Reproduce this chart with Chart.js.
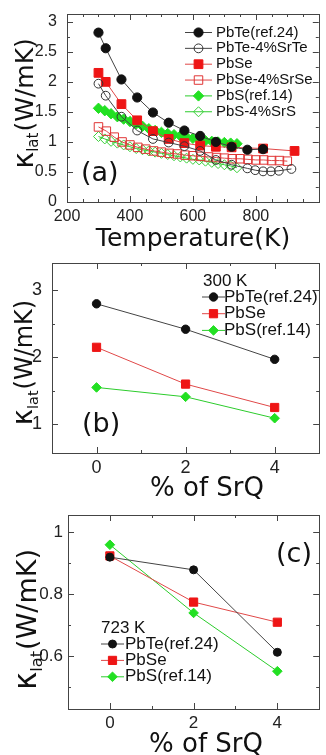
<!DOCTYPE html>
<html>
<head>
<meta charset="utf-8">
<script src="https://cdn.jsdelivr.net/npm/chart.js@4.4.1/dist/chart.umd.min.js"></script>
<style>
  html, body { margin: 0; padding: 0; background: #fff; }
  body { width: 326px; height: 755px; position: relative; overflow: hidden; }
  canvas { position: absolute; left: 0; }
</style>
</head>
<body>
<canvas id="panelA" width="326" height="252" style="top:0px"></canvas>
<canvas id="panelB" width="326" height="250" style="top:250px"></canvas>
<canvas id="panelC" width="326" height="255" style="top:500px"></canvas>
<script>
// ---- panel (a): k_lat vs temperature ----
const tPbTe = [300, 323, 373, 423, 473, 523, 573, 623, 673, 723, 773, 823];
const kPbTe = [2.82, 2.56, 2.04, 1.74, 1.49, 1.32, 1.19, 1.10, 1.00, 0.92, 0.87, 0.88];

const tPbTeSr = [300, 323, 373, 423, 473, 523, 573, 623, 673, 723, 773, 798, 823, 848, 873, 913];
const kPbTeSr = [1.97, 1.77, 1.42, 1.19, 1.05, 0.99, 0.93, 0.85, 0.70, 0.62, 0.56, 0.53, 0.51, 0.51, 0.52, 0.55];

const tPbSe = [300, 323, 373, 423, 473, 523, 573, 623, 673, 723, 823, 923];
const kPbSe = [2.15, 2.00, 1.63, 1.36, 1.18, 1.05, 0.98, 0.94, 0.92, 0.91, 0.89, 0.85];

const tPbSeSr = [300, 325, 350, 375, 400, 425, 450, 475, 500, 525, 550, 575, 600,
                 625, 650, 675, 700, 725, 750, 775, 800, 825, 850, 875, 900];
const kPbSeSr = [1.25, 1.18, 1.08, 1.00, 0.95, 0.91, 0.88, 0.85, 0.83, 0.81, 0.80, 0.78, 0.77,
                 0.76, 0.75, 0.74, 0.73, 0.72, 0.72, 0.71, 0.70, 0.70, 0.69, 0.69, 0.68];

const tPbS = [300, 320, 340, 360, 380, 400, 420, 440, 460, 480, 500, 520,
              540, 560, 580, 600, 620, 640, 660, 680, 700, 720, 740];
const kPbS = [1.56, 1.52, 1.47, 1.42, 1.38, 1.34, 1.30, 1.26, 1.22, 1.19, 1.16, 1.14,
              1.12, 1.10, 1.08, 1.06, 1.04, 1.02, 1.01, 1.00, 0.99, 0.98, 0.97];

const tPbSSr = tPbS;
const kPbSSr = [1.09, 1.05, 1.01, 0.98, 0.95, 0.92, 0.89, 0.87, 0.85, 0.83, 0.81, 0.79,
                0.77, 0.75, 0.73, 0.71, 0.70, 0.68, 0.66, 0.64, 0.62, 0.60, 0.57];

const tempLabels = [200, 400, 600, 800];
const kLabelsA = [0, 0.5, 1, 1.5, 2, 2.5, 3];

// ---- panels (b) and (c): k_lat vs % SrQ ----
const srqPct = [0, 2, 4];
const k300PbTe = [2.80, 2.42, 1.97];
const k300PbSe = [2.15, 1.60, 1.25];
const k300PbS  = [1.55, 1.41, 1.09];
const k723PbTe = [0.92, 0.879, 0.613];
const k723PbSe = [0.924, 0.775, 0.71];
const k723PbS  = [0.96, 0.74, 0.552];

const pctLabels = [0, 2, 4];
const kLabelsB = [1, 2, 3];
const kLabelsC = [0.6, 0.8, 1];

const BLACK = '#111', LINE_BLACK = '#444';
const RED = '#ee1515', LINE_RED = '#e04848';
const GREEN = '#22e022', LINE_GREEN = '#2ccc2c';

const pts = (xs, ys) => xs.map((x, i) => ({ x, y: ys[i] }));
const near = (a, b) => Math.abs(a - b) < 1e-6;

function series(label, xs, ys, style, filled, color, lineColor, r) {
  return {
    label,
    data: pts(xs, ys),
    borderColor: lineColor,
    borderWidth: 1,
    pointStyle: style,
    pointRadius: r,
    pointHoverRadius: r,
    pointBorderWidth: 1,
    pointBorderColor: color,
    pointBackgroundColor: filled ? color : 'rgba(255,255,255,0)',
    backgroundColor: filled ? color : 'rgba(255,255,255,0)',
    tension: 0,
    fill: false
  };
}

function marker(ctx, style, x, y, r, fill, stroke) {
  ctx.beginPath();
  if (style === 'circle') ctx.arc(x, y, r, 0, Math.PI * 2);
  else if (style === 'rect') { const s = r * Math.SQRT1_2; ctx.rect(x - s, y - s, 2 * s, 2 * s); }
  else { ctx.moveTo(x, y - r); ctx.lineTo(x + r, y); ctx.lineTo(x, y + r); ctx.lineTo(x - r, y); ctx.closePath(); }
  ctx.fillStyle = fill; ctx.fill();
  ctx.strokeStyle = stroke; ctx.lineWidth = 1; ctx.stroke();
}

// frame, inward ticks on all sides, tick labels, titles, legend and panel tag
function decor(cfg) {
  return {
    id: 'decor',
    afterDraw(chart) {
      const ctx = chart.ctx, a = chart.chartArea;
      const xs = chart.scales.x, ys = chart.scales.y;
      ctx.save();
      ctx.strokeStyle = '#444';
      ctx.lineWidth = 1;
      ctx.strokeRect(Math.round(a.left) + 0.5, Math.round(a.top) + 0.5,
                     Math.round(a.right - a.left), Math.round(a.bottom - a.top));
      ctx.beginPath();
      xs.ticks.forEach(t => {
        const len = t.major ? 6 : 3;
        const px = Math.round(xs.getPixelForValue(t.value)) + 0.5;
        ctx.moveTo(px, a.bottom); ctx.lineTo(px, a.bottom - len);
        ctx.moveTo(px, a.top); ctx.lineTo(px, a.top + len);
      });
      ys.ticks.forEach(t => {
        const len = t.major ? 6 : 3;
        const py = Math.round(ys.getPixelForValue(t.value)) + 0.5;
        ctx.moveTo(a.left, py); ctx.lineTo(a.left + len, py);
        ctx.moveTo(a.right, py); ctx.lineTo(a.right - len, py);
      });
      ctx.stroke();

      // tick labels
      ctx.fillStyle = '#222';
      ctx.font = cfg.tickFont;
      ctx.textAlign = 'center';
      ctx.textBaseline = 'top';
      xs.ticks.forEach(t => {
        if (t.major) ctx.fillText(String(t.value), xs.getPixelForValue(t.value), a.bottom + cfg.xPad);
      });
      ctx.textAlign = 'right';
      ctx.textBaseline = 'middle';
      ys.ticks.forEach(t => {
        if (t.major) ctx.fillText(String(t.value), a.left - cfg.yPad, ys.getPixelForValue(t.value));
      });

      // x title
      ctx.fillStyle = '#111';
      ctx.font = cfg.xTitleFont;
      ctx.textAlign = 'center';
      ctx.textBaseline = 'alphabetic';
      ctx.fillText(cfg.xTitle, cfg.xTitlePos[0], cfg.xTitlePos[1]);

      // y title with subscript, rotated
      const sz = cfg.yTitleSize;
      ctx.save();
      ctx.translate(cfg.yTitlePos[0], cfg.yTitlePos[1]);
      ctx.rotate(-Math.PI / 2);
      const fBig = sz * 1.15 + 'px "DejaVu Sans"', fMain = sz + 'px "DejaVu Sans"', fSub = sz * 0.6 + 'px "DejaVu Sans"';
      ctx.font = fBig; const w1 = ctx.measureText('κ').width;
      ctx.font = fSub; const w2 = ctx.measureText('lat').width;
      ctx.font = fMain; const w3 = ctx.measureText('(W/mK)').width;
      let x0 = -(w1 + w2 + w3) / 2;
      const base = sz * 0.35;
      ctx.textAlign = 'left';
      ctx.font = fBig; ctx.fillText('κ', x0, base); x0 += w1;
      ctx.font = fSub; ctx.fillText('lat', x0, base + sz * 0.22); x0 += w2 + 1;
      ctx.font = fMain; ctx.fillText('(W/mK)', x0, base);
      ctx.restore();

      // panel tag
      ctx.font = cfg.tagFont;
      ctx.textAlign = 'left';
      ctx.textBaseline = 'middle';
      ctx.fillText(cfg.tag, cfg.tagPos[0], cfg.tagPos[1]);

      // legend
      const L = cfg.legend;
      ctx.font = L.font;
      ctx.textBaseline = 'middle';
      if (L.title) ctx.fillText(L.title, L.titlePos[0], L.titlePos[1]);
      chart.data.datasets.forEach((ds, i) => {
        const y = L.y0 + i * L.dy;
        ctx.strokeStyle = ds.borderColor;
        ctx.lineWidth = 1;
        ctx.beginPath(); ctx.moveTo(L.x0, y); ctx.lineTo(L.x1, y); ctx.stroke();
        marker(ctx, ds.pointStyle, (L.x0 + L.x1) / 2, y, ds.pointRadius,
               ds.pointBackgroundColor, ds.pointBorderColor);
        ctx.fillStyle = '#111';
        ctx.fillText(ds.label, L.tx, y);
      });
      ctx.restore();
    }
  };
}

// axis with major (labelled) ticks and minor ticks every `minor`
function axis(min, max, minor, labels, fitKey, fitVal) {
  return {
    type: 'linear', min, max,
    afterFit: s => { s[fitKey] = fitVal; },
    afterBuildTicks: s => {
      const list = [];
      const n0 = Math.ceil(min / minor - 1e-6), n1 = Math.floor(max / minor + 1e-6);
      for (let n = n0; n <= n1; n++) {
        const v = Math.round(n * minor * 1e6) / 1e6;
        list.push({ value: v, major: labels.some(l => near(l, v)) });
      }
      s.ticks = list;
    },
    grid: { display: false, drawTicks: false },
    border: { display: false },
    ticks: { display: false }
  };
}

function make(id, datasets, scales, padding, cfg) {
  new Chart(document.getElementById(id), {
    type: 'line',
    data: { datasets },
    options: {
      responsive: false,
      devicePixelRatio: 1,
      animation: false,
      layout: { padding },
      plugins: { legend: { display: false }, tooltip: { enabled: false } },
      scales
    },
    plugins: [decor(cfg)]
  });
}

make('panelA', [
  series('PbTe(ref.24)', tPbTe, kPbTe, 'circle', true, BLACK, LINE_BLACK, 4.6),
  series('PbTe-4%SrTe', tPbTeSr, kPbTeSr, 'circle', false, '#333', LINE_BLACK, 4.4),
  series('PbSe', tPbSe, kPbSe, 'rect', true, RED, LINE_RED, 6.2),
  series('PbSe-4%SrSe', tPbSeSr, kPbSeSr, 'rect', false, '#e03535', LINE_RED, 6.0),
  series('PbS(ref.14)', tPbS, kPbS, 'rectRot', true, GREEN, LINE_GREEN, 5.2),
  series('PbS-4%SrS', tPbSSr, kPbSSr, 'rectRot', false, '#3ad03a', LINE_GREEN, 5.0)
], {
  x: axis(200, 1000, 50, tempLabels, 'height', 50),
  y: axis(0, 3.13, 0.25, kLabelsA, 'width', 67)
}, { top: 14, right: 4, left: 0, bottom: 0 }, {
  tickFont: '16px "Liberation Sans"', xPad: 7, yPad: 10,
  xTitle: 'Temperature(K)', xTitleFont: '25px "DejaVu Sans"', xTitlePos: [193, 246],
  yTitleSize: 25, yTitlePos: [24, 104],
  tag: '(a)', tagFont: '27px "DejaVu Sans"', tagPos: [81, 174],
  legend: { font: '15px "Liberation Sans"', x0: 185, x1: 212, tx: 216, y0: 32.5, dy: 15.85 }
});

make('panelB', [
  series('PbTe(ref.24)', srqPct, k300PbTe, 'circle', true, BLACK, LINE_BLACK, 4.2),
  series('PbSe', srqPct, k300PbSe, 'rect', true, RED, LINE_RED, 5.8),
  series('PbS(ref.14)', srqPct, k300PbS, 'rectRot', true, GREEN, LINE_GREEN, 4.8)
], {
  x: axis(-1, 5, 1, pctLabels, 'height', 47),
  y: axis(0.57, 3.41, 0.5, kLabelsB, 'width', 52)
}, { top: 13, right: 1, left: 0, bottom: 0 }, {
  tickFont: '18px "Liberation Sans"', xPad: 6, yPad: 10,
  xTitle: '% of SrQ', xTitleFont: '26px "DejaVu Sans"', xTitlePos: [207, 246],
  yTitleSize: 24, yTitlePos: [24, 113],
  tag: '(b)', tagFont: '27px "DejaVu Sans"', tagPos: [82, 175],
  legend: { font: '17px "Liberation Sans"', title: '300 K', titlePos: [203, 31],
            x0: 202, x1: 225, tx: 224, y0: 47, dy: 16.7 }
});

make('panelC', [
  series('PbTe(ref.24)', srqPct, k723PbTe, 'circle', true, BLACK, LINE_BLACK, 4.0),
  series('PbSe', srqPct, k723PbSe, 'rect', true, RED, LINE_RED, 5.8),
  series('PbS(ref.14)', srqPct, k723PbS, 'rectRot', true, GREEN, LINE_GREEN, 4.8)
], {
  x: axis(-1, 5, 1, pctLabels, 'height', 46),
  y: axis(0.43, 1.056, 0.1, kLabelsC, 'width', 68)
}, { top: 15, right: 0, left: 0, bottom: 0 }, {
  tickFont: '17px "Liberation Sans"', xPad: 6, yPad: 5,
  xTitle: '% of SrQ', xTitleFont: '26px "DejaVu Sans"', xTitlePos: [206, 252],
  yTitleSize: 27, yTitlePos: [27, 120],
  tag: '(c)', tagFont: '27px "DejaVu Sans"', tagPos: [276, 55],
  legend: { font: '17px "Liberation Sans"', title: '723 K', titlePos: [101, 128],
            x0: 101, x1: 124, tx: 125, y0: 144, dy: 16.4 }
});
</script>
</body>
</html>
